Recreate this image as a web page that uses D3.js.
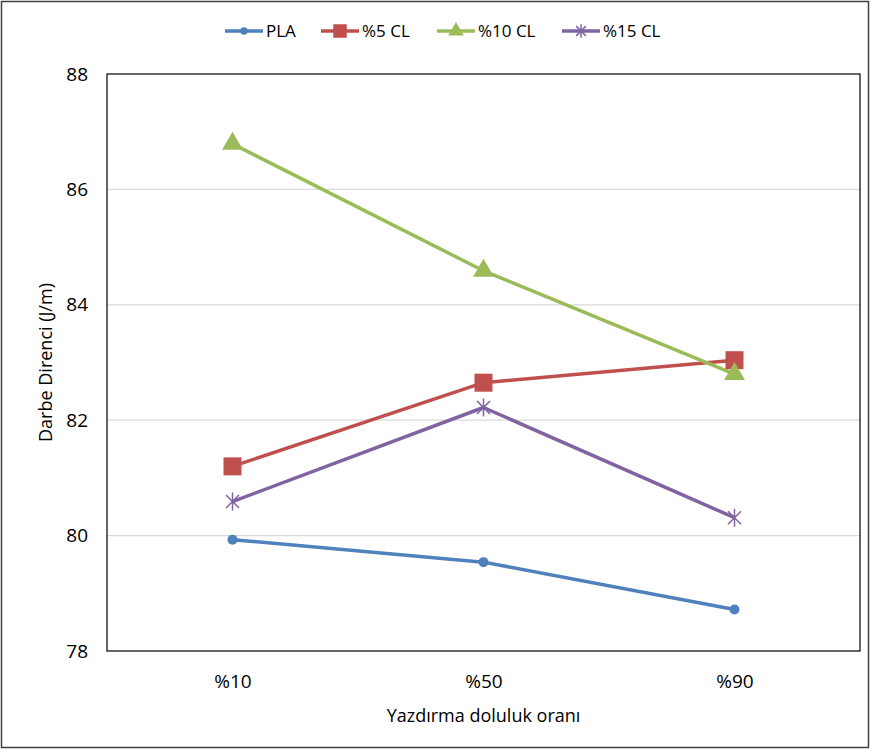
<!DOCTYPE html>
<html>
<head>
<meta charset="utf-8">
<script src="https://cdn.jsdelivr.net/npm/d3@7"></script>
<style>
  body { margin: 0; background: #fff; }
  text { font-family: "Open Sans", "Noto Sans", sans-serif; fill: #000; }
</style>
</head>
<body>
<svg id="mainsvg" width="871" height="750"></svg>
<script>
// kategoriler ve seriler
const categories = ["%10", "%50", "%90"];
const seriesNames = ["PLA", "%5 CL", "%10 CL", "%15 CL"];
const pla   = [79.93, 79.54, 78.72];
const cl5   = [81.20, 82.65, 83.04];
const cl10  = [86.79, 84.59, 82.80];
const cl15  = [80.59, 82.22, 80.31];
const yTicks = [78, 80, 82, 84, 86, 88];

const colors = ["#4F81BD", "#C0504D", "#9BBB59", "#8064A2"];
const shapes = ["circle", "square", "triangle", "star"];
const seriesData = [pla, cl5, cl10, cl15];

const svg = d3.select('#mainsvg');
const width = +svg.attr("width");
const height = +svg.attr("height");
const margin = { top: 74, right: 11, bottom: 99, left: 107 };
const innerWidth = width - margin.left - margin.right;
const innerHeight = height - margin.top - margin.bottom;

// dış çerçeve
svg.append("rect")
  .attr("x", 1.5).attr("y", 1.5)
  .attr("width", width - 4).attr("height", height - 4)
  .attr("fill", "none").attr("stroke", "#404040").attr("stroke-width", 1.5);

const xScale = d3.scalePoint()
  .domain(categories)
  .range([0, innerWidth])
  .padding(0.5);

const yScale = d3.scaleLinear()
  .domain([78, 88])
  .range([innerHeight, 0]);

const g = svg.append("g")
  .attr("transform", `translate(${margin.left}, ${margin.top})`);

// ızgara
g.append("g")
  .selectAll("line")
  .data(yTicks.slice(1, -1))
  .join("line")
  .attr("x1", 0).attr("x2", innerWidth)
  .attr("y1", d => yScale(d)).attr("y2", d => yScale(d))
  .attr("stroke", "#D9D9D9").attr("stroke-width", 1.3);

// eksenler
const yAxis = d3.axisLeft(yScale).tickValues(yTicks).tickSize(0).tickPadding(19);
g.append("g").call(yAxis).call(a => a.select(".domain").remove())
  .selectAll("text").attr("font-size", "19px")
  .attr("font-family", "'Open Sans', 'Noto Sans', sans-serif");

const xAxis = d3.axisBottom(xScale).tickSize(0).tickPadding(24);
g.append("g").attr("transform", `translate(0, ${innerHeight})`)
  .call(xAxis).call(a => a.select(".domain").remove())
  .selectAll("text").attr("font-size", "19px")
  .attr("font-family", "'Open Sans', 'Noto Sans', sans-serif");

// çizim alanı çerçevesi
g.append("rect")
  .attr("width", innerWidth).attr("height", innerHeight)
  .attr("fill", "none").attr("stroke", "#000").attr("stroke-width", 1.2);

// işaretçi çizimi
function drawMarker(sel, shape, color, scale) {
  const k = scale || 1;
  if (shape === "circle") {
    sel.append("circle").attr("r", 5 * k).attr("fill", color);
  } else if (shape === "square") {
    sel.append("rect").attr("x", -9 * k).attr("y", -9 * k)
      .attr("width", 18 * k).attr("height", 18 * k).attr("fill", color);
  } else if (shape === "triangle") {
    sel.append("path").attr("d", d3.symbol(d3.symbolTriangle, 190 * k * k)())
      .attr("fill", color);
  } else {
    const r = 9 * k;
    const d = r * 0.72;
    const p = `M0,${-r}L0,${r}M${-d},${-d}L${d},${d}M${-d},${d}L${d},${-d}`;
    sel.append("path").attr("d", p).attr("stroke", color)
      .attr("stroke-width", 1.5).attr("fill", "none");
  }
}

const line = d3.line()
  .x((d, i) => xScale(categories[i]))
  .y(d => yScale(d));

seriesData.forEach((vals, s) => {
  g.append("path")
    .datum(vals)
    .attr("d", line)
    .attr("fill", "none")
    .attr("stroke", colors[s])
    .attr("stroke-width", 3.5)
    .attr("stroke-linejoin", "round");
});

seriesData.forEach((vals, s) => {
  vals.forEach((v, i) => {
    const m = g.append("g")
      .attr("transform", `translate(${xScale(categories[i])}, ${yScale(v)})`);
    drawMarker(m, shapes[s], colors[s]);
  });
});

// eksen başlıkları
svg.append("text")
  .text("Darbe Direnci (J/m)")
  .attr("font-size", "18px")
  .attr("text-anchor", "middle")
  .attr("transform", `translate(52, ${margin.top + innerHeight / 2}) rotate(-90)`);

svg.append("text")
  .text("Yazdırma doluluk oranı")
  .attr("font-size", "18px")
  .attr("text-anchor", "middle")
  .attr("x", margin.left + innerWidth / 2)
  .attr("y", 722);

// lejant
const legendX = [225, 321, 437, 562];
const legend = svg.append("g").attr("transform", "translate(0, 31)");
seriesNames.forEach((name, s) => {
  const lg = legend.append("g").attr("transform", `translate(${legendX[s]}, 0)`);
  lg.append("line").attr("x1", 0).attr("x2", 38)
    .attr("stroke", colors[s]).attr("stroke-width", 3.5);
  const m = lg.append("g").attr("transform", "translate(19, 0)");
  drawMarker(m, shapes[s], colors[s], 0.75);
  lg.append("text").text(name)
    .attr("x", 41).attr("y", 6)
    .attr("font-size", "17px");
});
</script>
</body>
</html>
